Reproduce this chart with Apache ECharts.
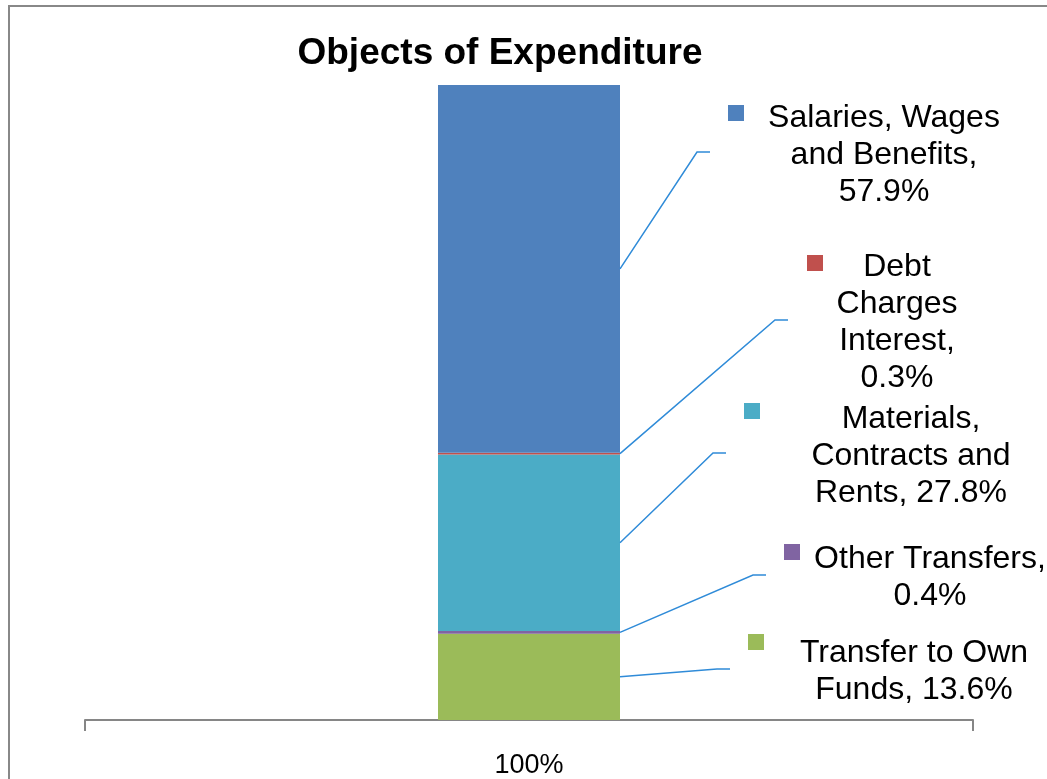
<!DOCTYPE html>
<html lang="en">
<head>
    <meta charset="UTF-8">
    <title>Objects of Expenditure</title>
    <style type="text/css">
        html, body { margin: 0; padding: 0; background: #fff; overflow: hidden; }
        #frame {
            position: absolute; left: 8px; top: 5px; width: 1100px; height: 820px;
            border-left: 2px solid #888; border-top: 2px solid #888;
        }
        #chart { position: absolute; left: 0; top: 0; width: 1047px; height: 779px; }
    </style>
</head>
<body>
<div id="frame"></div>
<div id="chart"></div>
<script type="text/javascript" src="https://cdn.jsdelivr.net/npm/echarts@6/dist/echarts.min.js"></script>
<script type="text/javascript">
    // stacked from bottom to top
    var categories = ['100%'];
    var names = ['Transfer to Own\nFunds', 'Other Transfers', 'Materials,\nContracts and\nRents', 'Debt\nCharges\nInterest', 'Salaries, Wages\nand Benefits'];
    var values = [13.6, 0.4, 27.8, 0.3, 57.9];
    var valueOnNewLine = [false, true, false, true, true];
    var colors = ['#9BBB59', '#8064A2', '#4BACC6', '#C0504D', '#4F81BD'];

    // where excel left each data label: text centre x, block centre y, end of leader line, key square
    var labelLayout = [
        { cx: 914, cy: 669, lx: 730, kx: 748, ky: 634 },
        { cx: 930, cy: 575, lx: 766, kx: 784, ky: 544 },
        { cx: 911, cy: 453, lx: 726, kx: 744, ky: 403 },
        { cx: 897, cy: 320, lx: 788, kx: 807, ky: 255 },
        { cx: 884, cy: 152, lx: 710, kx: 728, ky: 105 }
    ];
    var barWidth = 182;

    var chart = echarts.init(document.getElementById('chart'));

    var series = values.map(function (v, i) {
        return {
            name: names[i],
            type: 'bar',
            stack: 'total',
            barWidth: barWidth,
            itemStyle: { color: colors[i] },
            emphasis: { disabled: true },
            data: [v]
        };
    });

    // leader lines + labels, start point taken from the middle of each stacked piece
    var cum = [];
    var s = 0;
    values.forEach(function (v) { cum.push(s + v / 2); s += v; });

    series.push({
        type: 'custom',
        coordinateSystem: 'cartesian2d',
        clip: false,
        silent: true,
        z: 5,
        data: values.map(function (v, i) { return [categories[0], cum[i], i]; }),
        encode: { x: 0, y: 1 },
        renderItem: function (params, api) {
            var i = api.value(2);
            var p = api.coord([api.value(0), api.value(1)]);
            var lay = labelLayout[i];
            var x0 = p[0] + barWidth / 2;
            var text = names[i] + ',' + (valueOnNewLine[i] ? '\n' : ' ') + values[i].toFixed(1) + '%';
            return {
                type: 'group',
                children: [{
                    type: 'polyline',
                    shape: { points: [[x0, p[1]], [lay.lx - 13, lay.cy], [lay.lx, lay.cy]] },
                    style: { stroke: '#2F8BD8', lineWidth: 1.5, fill: null }
                }, {
                    type: 'rect',
                    shape: { x: lay.kx, y: lay.ky, width: 16, height: 16 },
                    style: { fill: colors[i] }
                }, {
                    type: 'text',
                    style: {
                        x: lay.cx, y: lay.cy + 3,
                        text: text,
                        align: 'center',
                        verticalAlign: 'middle',
                        fontFamily: 'Liberation Sans, Arial, sans-serif',
                        fontSize: 32,
                        lineHeight: 37,
                        fill: '#000'
                    }
                }]
            };
        }
    });

    chart.setOption({
        animation: false,
        title: {
            text: 'Objects of Expenditure',
            left: 495,
            top: 30,
            textAlign: 'center',
            textStyle: { fontFamily: 'Liberation Sans, Arial, sans-serif', fontSize: 37, fontWeight: 'bold', color: '#000' }
        },
        grid: { left: 85, right: 74, top: 85, bottom: 59, outerBoundsMode: 'none' },
        xAxis: {
            type: 'category',
            data: categories,
            axisLine: { lineStyle: { color: '#868686', width: 2 } },
            axisTick: { show: true, length: 11, lineStyle: { color: '#868686', width: 2 } },
            axisLabel: { margin: 32, fontFamily: 'Liberation Sans, Arial, sans-serif', fontSize: 27, color: '#000' }
        },
        yAxis: { type: 'value', min: 0, max: 100, show: false },
        series: series
    });
</script>
</body>
</html>
